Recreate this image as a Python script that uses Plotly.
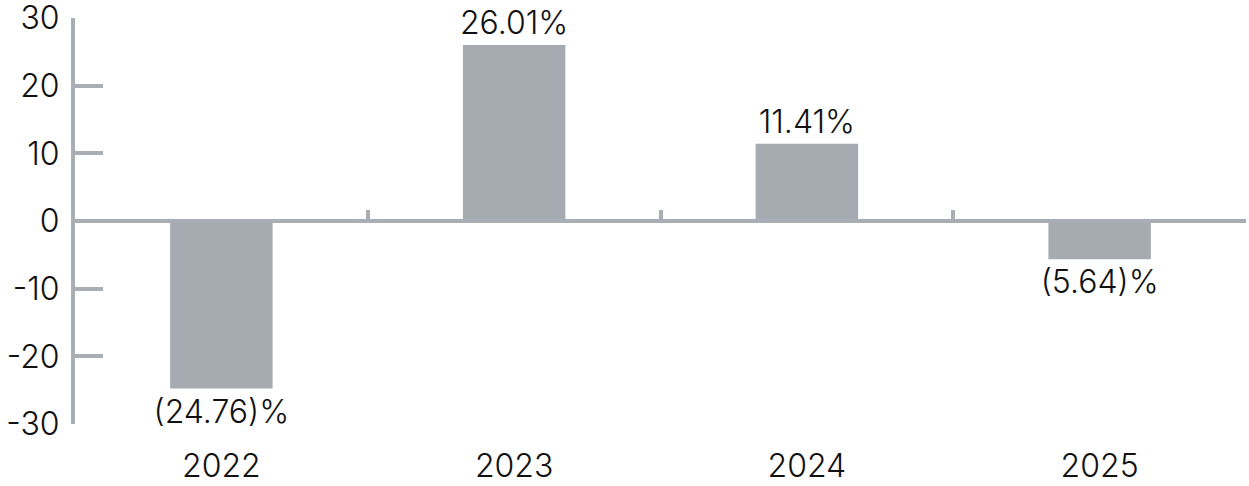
import plotly.graph_objects as go

years = ["2022", "2023", "2024", "2025"]
returns = [-24.76, 26.01, 11.41, -5.64]
labels = ["(24.76)%", "26.01%", "11.41%", "(5.64)%"]
y_ticks = [-30, -20, -10, 0, 10, 20, 30]
y_tick_text = ["-30", "-20", "-10", "0", "10", "20", "30"]

bar_color = "#a6abb2"
axis_color = "#a9aeb5"
font_family = "Inter, Liberation Sans, Arial, sans-serif"
font_size = 32
font = dict(family=font_family, size=font_size, color="#111111", weight=300)

fig = go.Figure()
fig.add_trace(go.Bar(
    x=years, y=returns, text=labels, textposition="outside",
    marker=dict(color=bar_color, line=dict(width=0)),
    textfont=font, constraintext="none",
    cliponaxis=False, width=0.35, hoverinfo="skip",
))
# invisible trace to host the zero-line axis
fig.add_trace(go.Scatter(
    x=years, y=[0] * len(years), xaxis="x2", yaxis="y",
    mode="markers", marker=dict(opacity=0), hoverinfo="skip", showlegend=False,
))

fig.update_layout(
    width=1249, height=486,
    margin=dict(l=75, r=3, t=18, b=62),
    paper_bgcolor="white", plot_bgcolor="white",
    showlegend=False,
    font=font,
    xaxis=dict(
        type="category", range=[-0.5, 3.5], automargin=False,
        showline=False, showgrid=False, zeroline=False, ticks="",
        tickfont=font, ticklabelstandoff=20, ticklabeloverflow="allow",
    ),
    xaxis2=dict(
        type="category", range=[-0.5, 3.5], overlaying="x",
        anchor="free", position=0.5, automargin=False,
        showline=True, linecolor=axis_color, linewidth=4,
        ticks="inside", tickson="boundaries", ticklen=9, tickwidth=4,
        tickcolor=axis_color, showticklabels=False, showgrid=False, zeroline=False,
    ),
    yaxis=dict(
        range=[-30, 30], tickvals=y_ticks, ticktext=y_tick_text, automargin=False,
        showline=True, linecolor=axis_color, linewidth=4,
        ticks="inside", ticklen=28, tickwidth=4, tickcolor=axis_color,
        showgrid=False, zeroline=False, ticklabeloverflow="allow",
        tickfont=font, ticklabelstandoff=5,
    ),
)

fig.write_html(
    "out.html",
    config={"displayModeBar": False},
    post_script="document.body.style.margin='0';document.body.style.overflow='hidden';",
)
